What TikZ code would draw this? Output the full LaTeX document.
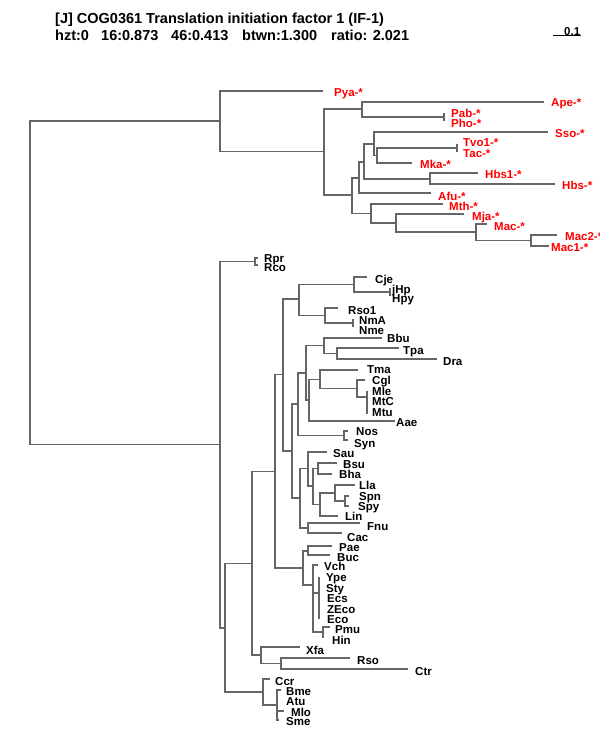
\documentclass[tikz,border=0pt]{standalone}
\usepackage{fontspec}
\setmainfont{Liberation Sans}
\definecolor{branch}{HTML}{666666}

\begin{document}
\begin{tikzpicture}%
        [x=1pt, y=-1pt,
        edge/.style={color=branch, line width=1.9pt},
        bar/.style={color=black, line width=1pt},
        leaf/.style={anchor=base west, inner sep=0pt, yshift=-4.1pt, font=\bfseries\fontsize{11.5}{12}\selectfont},
        arch/.style={leaf, text=red},
        head/.style={anchor=base west, inner sep=0pt, font=\bfseries\fontsize{14.5}{16}\selectfont}]

    \useasboundingbox (0,0) rectangle (600,750);

    %% Heading and scale bar
    \node[head] (title) at (55,23.5) {[J] COG0361 Translation initiation factor 1 (IF-1)};
    \node[head] (hzt) at (55,40) {hzt:0};
    \node[head] (n16) at (101,40) {16:0.873};
    \node[head] (n46) at (171,40) {46:0.413};
    \node[head] (btwn) at (242,40) {btwn:1.300};
    \node[head] (ratio) at (331,40) {ratio: 2.021};
    \coordinate (sb1) at (553,35);
    \coordinate (sb2) at (581,35);
    \draw[bar] (sb1) -- (sb2);
    \node[leaf, yshift=0pt] (scale) at (564,31.5) {0.1};

    %%
    %% Inner nodes of the tree
    %%
    \coordinate (root) at (30,282);
    \coordinate (a0) at (220,121);
    \coordinate (a1) at (324,151.5);
    \coordinate (a2) at (362,109);
    \coordinate (pp) at (444,117);
    \coordinate (a3) at (352,195);
    \coordinate (a4) at (359,178);
    \coordinate (a5) at (364,162);
    \coordinate (a6) at (374,144);
    \coordinate (a6b) at (377,155.5);
    \coordinate (tt) at (457,148);
    \coordinate (hb) at (430,179);
    \coordinate (a7) at (371,213.5);
    \coordinate (a8) at (396,223);
    \coordinate (a9) at (476,232);
    \coordinate (a10) at (531,240.5);

    \coordinate (b0) at (220,444.5);
    \coordinate (rr) at (255,261.5);
    \coordinate (b1) at (225,628);
    \coordinate (b2) at (252,563.5);
    \coordinate (xx) at (261,655);
    \coordinate (rc) at (281,663.5);
    \coordinate (cc) at (263,692);
    \coordinate (bs) at (277,705);
    \coordinate (b3) at (275,471.5);
    \coordinate (b4) at (283,374.5);
    \coordinate (b5) at (299,299);
    \coordinate (b6) at (354,284.5);
    \coordinate (hh) at (390,292);
    \coordinate (b7) at (325,315.5);
    \coordinate (nn) at (353,323);
    \coordinate (b10) at (292,451);
    \coordinate (b11) at (298,404);
    \coordinate (ns) at (344,435.5);
    \coordinate (b12) at (306,373);
    \coordinate (b13) at (324,345.5);
    \coordinate (td) at (337,353.5);
    \coordinate (b14) at (309,400);
    \coordinate (tm) at (320,379.5);
    \coordinate (cm) at (357,388.5);
    \coordinate (mm) at (367,397);
    \coordinate (b30) at (300,498);
    \coordinate (b31) at (308,468.5);
    \coordinate (bx) at (313,486);
    \coordinate (bb) at (318,468.5);
    \coordinate (b32) at (320,504.5);
    \coordinate (b33) at (335,493);
    \coordinate (sp) at (345,501);
    \coordinate (fc) at (308,528);
    \coordinate (b20) at (303,568);
    \coordinate (pb) at (308,551);
    \coordinate (vv) at (313,585);
    \coordinate (ye) at (319,593);
    \coordinate (ph) at (323,632);

    %%
    %% Leaf ends
    %%
    \coordinate (pya) at (323,91);
    \coordinate (ape) at (544,102);
    \coordinate (pab) at (444,113);
    \coordinate (pho) at (444,121);
    \coordinate (sso) at (548,132);
    \coordinate (tvo1) at (457,144);
    \coordinate (tac) at (457,152);
    \coordinate (mka) at (412,163);
    \coordinate (hbs1) at (478,173);
    \coordinate (hbs) at (555,184);
    \coordinate (afu) at (431,193);
    \coordinate (mth) at (443,204);
    \coordinate (mja) at (464,214);
    \coordinate (mac) at (487,224);
    \coordinate (mac2) at (557,235);
    \coordinate (mac1) at (549,246);

    \coordinate (rpr) at (258,258);
    \coordinate (rco) at (258,265);
    \coordinate (cje) at (367,277);
    \coordinate (jhp) at (390,288);
    \coordinate (hpy) at (390,296);
    \coordinate (rso1) at (338,308);
    \coordinate (nma) at (353,319);
    \coordinate (nme) at (353,327);
    \coordinate (bbu) at (382,338);
    \coordinate (tpa) at (399,348);
    \coordinate (dra) at (437,359);
    \coordinate (tma) at (358,370);
    \coordinate (cgl) at (365,380);
    \coordinate (mle) at (367,391);
    \coordinate (mtc) at (367,403);
    \coordinate (mtu) at (367,414);
    \coordinate (aae) at (395,421);
    \coordinate (nos) at (348,431);
    \coordinate (syn) at (348,440);
    \coordinate (sau) at (327,452);
    \coordinate (bsu) at (337,463);
    \coordinate (bha) at (332,474);
    \coordinate (lla) at (355,485);
    \coordinate (spn) at (349,496);
    \coordinate (spy) at (349,506);
    \coordinate (lin) at (338,516);
    \coordinate (fnu) at (360,523);
    \coordinate (cac) at (342,533);
    \coordinate (pae) at (332,546);
    \coordinate (buc) at (330,555);
    \coordinate (vch) at (318,565);
    \coordinate (ype) at (319,577);
    \coordinate (sty) at (319,587);
    \coordinate (ecs) at (319,598);
    \coordinate (zeco) at (319,608);
    \coordinate (eco) at (319,619);
    \coordinate (pmu) at (330,627);
    \coordinate (hin) at (323,638);
    \coordinate (xfa) at (300,647);
    \coordinate (rso) at (350,658);
    \coordinate (ctr) at (408,669);
    \coordinate (ccr) at (270,679);
    \coordinate (bme) at (281,690);
    \coordinate (atu) at (277,700);
    \coordinate (mlo) at (284,711);
    \coordinate (sme) at (279,720);

    %%
    %% Drawing the branches
    %%
    \draw[edge] (root) |- (a0) (root) |- (b0);
    \draw[edge] (a0) |- (pya) (a0) |- (a1);
    \draw[edge] (a1) |- (a2) (a1) |- (a3);
    \draw[edge] (a2) |- (ape) (a2) |- (pp) (pp) |- (pab) (pp) |- (pho);
    \draw[edge] (a3) |- (a4) (a3) |- (a7);
    \draw[edge] (a4) |- (a5) (a4) |- (afu);
    \draw[edge] (a5) |- (a6) (a5) |- (hb);
    \draw[edge] (a6) |- (sso) (a6) |- (a6b);
    \draw[edge] (a6b) |- (tt) (a6b) |- (mka) (tt) |- (tvo1) (tt) |- (tac);
    \draw[edge] (hb) |- (hbs1) (hb) |- (hbs);
    \draw[edge] (a7) |- (mth) (a7) |- (a8);
    \draw[edge] (a8) |- (mja) (a8) |- (a9);
    \draw[edge] (a9) |- (mac) (a9) |- (a10);
    \draw[edge] (a10) |- (mac2) (a10) |- (mac1);

    \draw[edge] (b0) |- (rr) (b0) |- (b1) (rr) |- (rpr) (rr) |- (rco);
    \draw[edge] (b1) |- (b2) (b1) |- (cc);
    \draw[edge] (b2) |- (b3) (b2) |- (xx);
    \draw[edge] (xx) |- (xfa) (xx) |- (rc) (rc) |- (rso) (rc) |- (ctr);
    \draw[edge] (cc) |- (ccr) (cc) |- (bs);
    \draw[edge] (bs) |- (bme) (bs) |- (atu) (bs) |- (mlo) (bs) |- (sme);
    \draw[edge] (b3) |- (b4) (b3) |- (b20);
    \draw[edge] (b4) |- (b5) (b4) |- (b10);
    \draw[edge] (b5) |- (b6) (b5) |- (b7);
    \draw[edge] (b6) |- (cje) (b6) |- (hh) (hh) |- (jhp) (hh) |- (hpy);
    \draw[edge] (b7) |- (rso1) (b7) |- (nn) (nn) |- (nma) (nn) |- (nme);
    \draw[edge] (b10) |- (b11) (b10) |- (b30);
    \draw[edge] (b11) |- (b12) (b11) |- (ns) (ns) |- (nos) (ns) |- (syn);
    \draw[edge] (b12) |- (b13) (b12) |- (b14);
    \draw[edge] (b13) |- (bbu) (b13) |- (td) (td) |- (tpa) (td) |- (dra);
    \draw[edge] (b14) |- (tm) (b14) |- (aae);
    \draw[edge] (tm) |- (tma) (tm) |- (cm) (cm) |- (cgl) (cm) |- (mm);
    \draw[edge] (mm) |- (mle) (mm) |- (mtc) (mm) |- (mtu);
    \draw[edge] (b30) |- (b31) (b30) |- (fc) (fc) |- (fnu) (fc) |- (cac);
    \draw[edge] (b31) |- (sau) (b31) |- (bx);
    \draw[edge] (bx) |- (bb) (bx) |- (b32) (bb) |- (bsu) (bb) |- (bha);
    \draw[edge] (b32) |- (b33) (b32) |- (lin);
    \draw[edge] (b33) |- (lla) (b33) |- (sp) (sp) |- (spn) (sp) |- (spy);
    \draw[edge] (b20) |- (pb) (b20) |- (vv) (pb) |- (pae) (pb) |- (buc);
    \draw[edge] (vv) |- (vch) (vv) |- (ye) (vv) |- (ph);
    \draw[edge] (ye) |- (ype) (ye) |- (sty) (ye) |- (ecs) (ye) |- (zeco) (ye) |- (eco);
    \draw[edge] (ph) |- (pmu) (ph) |- (hin);

    %%
    %% Leaf labels
    %%
    \node[arch] (l-pya) at (334,92.5) {Pya-*};
    \node[arch] (l-ape) at (551,102.5) {Ape-*};
    \node[arch] (l-pab) at (451,113.5) {Pab-*};
    \node[arch] (l-pho) at (451,123.5) {Pho-*};
    \node[arch] (l-sso) at (555,133) {Sso-*};
    \node[arch] (l-tvo1) at (463,142.5) {Tvo1-*};
    \node[arch] (l-tac) at (463,153) {Tac-*};
    \node[arch] (l-mka) at (420,164.5) {Mka-*};
    \node[arch] (l-hbs1) at (485,174.5) {Hbs1-*};
    \node[arch] (l-hbs) at (562,185) {Hbs-*};
    \node[arch] (l-afu) at (438,196) {Afu-*};
    \node[arch] (l-mth) at (449,206) {Mth-*};
    \node[arch] (l-mja) at (472,216.5) {Mja-*};
    \node[arch] (l-mac) at (494,226) {Mac-*};
    \node[arch] (l-mac2) at (565,236) {Mac2-*};
    \node[arch] (l-mac1) at (551,247.5) {Mac1-*};

    \node[leaf] (l-rpr) at (264,258) {Rpr};
    \node[leaf] (l-rco) at (264,267) {Rco};
    \node[leaf] (l-cje) at (375,279) {Cje};
    \node[leaf] (l-jhp) at (392,289.5) {jHp};
    \node[leaf] (l-hpy) at (392,298.5) {Hpy};
    \node[leaf] (l-rso1) at (348,310) {Rso1};
    \node[leaf] (l-nma) at (359,320) {NmA};
    \node[leaf] (l-nme) at (359,330) {Nme};
    \node[leaf] (l-bbu) at (387,338.5) {Bbu};
    \node[leaf] (l-tpa) at (403,350.5) {Tpa};
    \node[leaf] (l-dra) at (443,361) {Dra};
    \node[leaf] (l-tma) at (367,369.5) {Tma};
    \node[leaf] (l-cgl) at (372,380) {Cgl};
    \node[leaf] (l-mle) at (372,391) {Mle};
    \node[leaf] (l-mtc) at (372,401.5) {MtC};
    \node[leaf] (l-mtu) at (372,412.5) {Mtu};
    \node[leaf] (l-aae) at (396,422.5) {Aae};
    \node[leaf] (l-nos) at (356,431.5) {Nos};
    \node[leaf] (l-syn) at (354,443) {Syn};
    \node[leaf] (l-sau) at (333,453) {Sau};
    \node[leaf] (l-bsu) at (343,464) {Bsu};
    \node[leaf] (l-bha) at (339,474.5) {Bha};
    \node[leaf] (l-lla) at (359,485.5) {Lla};
    \node[leaf] (l-spn) at (359,496) {Spn};
    \node[leaf] (l-spy) at (358,506.5) {Spy};
    \node[leaf] (l-lin) at (345,516) {Lin};
    \node[leaf] (l-fnu) at (367,526) {Fnu};
    \node[leaf] (l-cac) at (347,537) {Cac};
    \node[leaf] (l-pae) at (339,547.5) {Pae};
    \node[leaf] (l-buc) at (337,557) {Buc};
    \node[leaf] (l-vch) at (324,566.5) {Vch};
    \node[leaf] (l-ype) at (326,577.5) {Ype};
    \node[leaf] (l-sty) at (326,588) {Sty};
    \node[leaf] (l-ecs) at (327,598.5) {Ecs};
    \node[leaf] (l-zeco) at (327,609) {ZEco};
    \node[leaf] (l-eco) at (327,619.5) {Eco};
    \node[leaf] (l-pmu) at (335,629.5) {Pmu};
    \node[leaf] (l-hin) at (332,640) {Hin};
    \node[leaf] (l-xfa) at (306,650.5) {Xfa};
    \node[leaf] (l-rso) at (357,660.5) {Rso};
    \node[leaf] (l-ctr) at (415,671) {Ctr};
    \node[leaf] (l-ccr) at (275,681) {Ccr};
    \node[leaf] (l-bme) at (286,691) {Bme};
    \node[leaf] (l-atu) at (286,701.5) {Atu};
    \node[leaf] (l-mlo) at (291,712) {Mlo};
    \node[leaf] (l-sme) at (286,721.5) {Sme};
\end{tikzpicture}
\end{document}
